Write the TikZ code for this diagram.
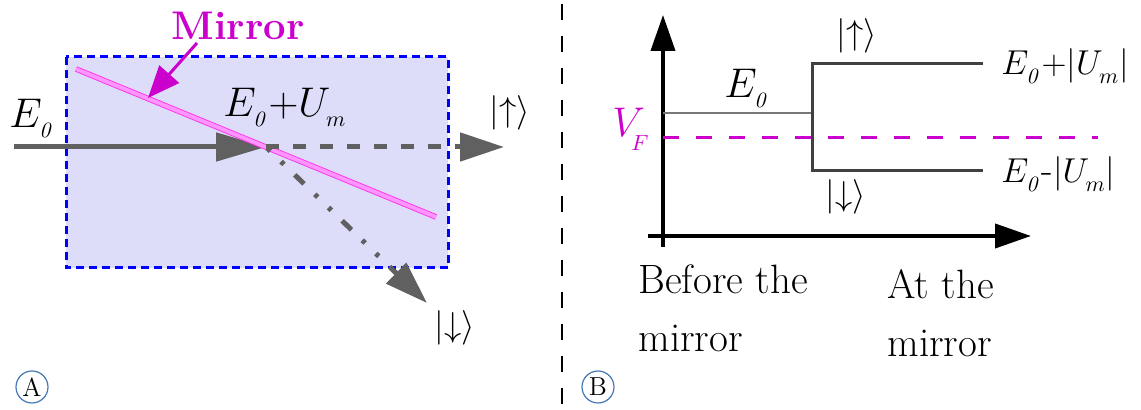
\documentclass[tikz,border=0pt]{standalone}
\usepackage{amsmath}
\usetikzlibrary{arrows.meta}
\definecolor{lav}{RGB}{221,221,250}
\definecolor{beamgray}{RGB}{96,96,96}
\definecolor{mag}{RGB}{204,0,204}
\definecolor{mirpink}{RGB}{255,150,255}
\definecolor{mirborder}{RGB}{255,50,235}
\definecolor{circblue}{RGB}{70,120,180}
\definecolor{levgray}{RGB}{64,64,64}
\definecolor{e0gray}{RGB}{120,120,120}
\newcommand{\losub}[2][1.5pt]{\raisebox{-#1}{\fontsize{11}{11}\selectfont$#2$}}
\begin{document}
\begin{tikzpicture}[x=0.5pt,y=-0.5pt,
  txt/.style={inner sep=0pt, font=\fontsize{20.5}{29}\selectfont},
  mth/.style={inner sep=0pt, font=\fontsize{20}{24}\selectfont},
  mthsm/.style={inner sep=0pt, font=\fontsize{19}{24}\selectfont},
  ket/.style={inner sep=0pt, font=\fontsize{19}{22}\selectfont},
  beam/.style={draw=beamgray, line width=2.5pt},
  bigtip/.style={-{Triangle[length=#1,width=14pt]}},
  axisline/.style={draw=black, line width=2pt, -{Triangle[length=18pt,width=12pt]}},
  lvl/.style={draw=levgray, line width=1.5pt},
  circlbl/.style={circle, draw=circblue, line width=0.6pt, inner sep=0pt, minimum size=16pt, font=\fontsize{13}{15}\selectfont}]
\useasboundingbox (0,0) rectangle (1141,410);

% ---------- Panel A ----------
\draw[draw=blue, fill=lav, line width=1.5pt, dash pattern=on 4pt off 2.5pt] (66,57) rectangle (448,268);

\coordinate (in) at (14,147);
\coordinate (hit) at (266,147);
\coordinate (upend) at (504,147);
\coordinate (downend) at (427,303);
\coordinate (m1) at (76,69);
\coordinate (m2) at (436,217);
\coordinate (mirstart) at (197,43);
\coordinate (mirtip) at (148,98);

\draw[beam, bigtip=25pt] (in) -- (hit);
\draw[draw=mirborder, line width=0.45pt, double=mirpink, double distance=1.9pt] (m1) -- (m2);
\draw[beam, dash pattern=on 6.5pt off 7pt, bigtip=22pt] (hit) -- (upend);
\draw[beam, dash pattern=on 6.5pt off 7.5pt on 2pt off 7.5pt on 2pt off 7.5pt, dash phase=13pt, bigtip=21.5pt] (hit) -- (downend);

\node[inner sep=0pt, font=\bfseries\fontsize{20}{22}\selectfont, text=mag] (mirlbl) at (238,26) {Mirror};
\draw[draw=mag, line width=1.5pt, -{Triangle[length=16pt,width=13pt]}] (mirstart) -- (mirtip);

\node[mth, anchor=base west] (e0a) at (9,128) {$E_{\losub{\mathit{0}}}$};
\node[mth, anchor=base west] (e0uma) at (223,117) {$E_{\losub{\mathit{0}}}{+}U_{\losub{m}}$};
\node[ket] (upa) at (510,113) {$|{\uparrow}\rangle$};
\node[ket] (downa) at (455,328) {$|{\downarrow}\rangle$};
\node[circlbl] (cA) at (32,387) {A};

% ---------- separator ----------
\coordinate (sepTop) at (562,4);
\coordinate (sepBot) at (562,410);
\draw[line width=1pt, dash pattern=on 8pt off 8pt] (sepTop) -- (sepBot);

% ---------- Panel B ----------
\coordinate (yb) at (663,247);
\coordinate (yt) at (663,15);
\coordinate (xl) at (648,236);
\coordinate (xr) at (1031,236);
\draw[axisline] (yb) -- (yt);
\draw[axisline] (xl) -- (xr);

\coordinate (e0s) at (663,113);
\coordinate (split) at (812,113);
\coordinate (upL) at (812,64);
\coordinate (upR) at (983,64);
\coordinate (dnL) at (812,171);
\coordinate (dnR) at (983,171);
\coordinate (vfL) at (663,138);
\coordinate (vfR) at (1098,138);

\draw[draw=e0gray, line width=1pt] (e0s) -- (split);
\draw[draw=mag, line width=1.5pt, dash pattern=on 8pt off 8.5pt] (vfL) -- (vfR);
\draw[lvl] (upR) -- (upL) -- (dnL) -- (dnR);

\node[mth, anchor=base west, text=mag] (vf) at (612,137) {$V_{\!\losub[3.5pt]{F}}$};
\node[mth, anchor=base west] (e0b) at (724,98) {$E_{\losub{\mathit{0}}}$};
\node[ket] (upb) at (857,36) {$|{\uparrow}\rangle$};
\node[ket] (downb) at (846,197) {$|{\downarrow}\rangle$};
\node[mthsm, anchor=base west] (plusb) at (1001,75) {$E_{\losub{\mathit{0}}}{+}|U_{\losub{m}}|$};
\node[mthsm, anchor=base west] (minusb) at (1001,183) {$E_{\losub{\mathit{0}}}$-$|U_{\losub{m}}|$};

\node[txt, anchor=north west, align=left] (before) at (638,264) {Before the\\mirror};
\node[txt, anchor=north west, align=left] (atm) at (887,269) {At the\\mirror};
\node[circlbl] (cB) at (598,387) {B};
\end{tikzpicture}
\end{document}
